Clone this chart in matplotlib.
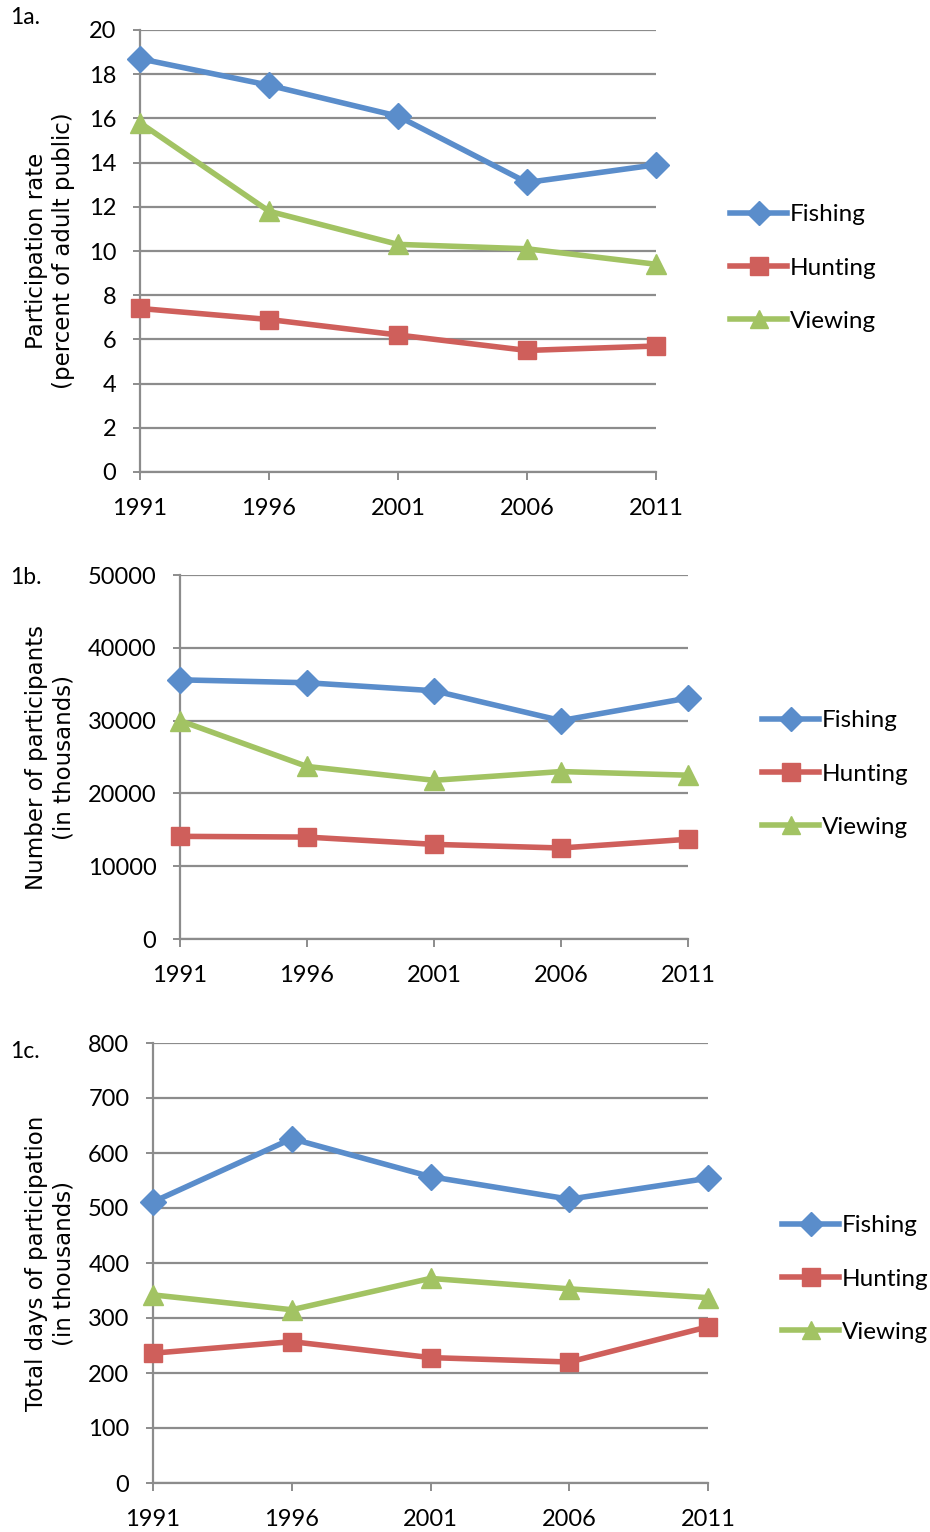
import matplotlib
matplotlib.use("Agg")
import matplotlib.pyplot as plt
from matplotlib.lines import Line2D

# ---- data ----
years = [1991, 1996, 2001, 2006, 2011]
series_names = ["Fishing", "Hunting", "Viewing"]

rate_fishing = [18.7, 17.5, 16.1, 13.1, 13.9]
rate_hunting = [7.4, 6.9, 6.2, 5.5, 5.7]
rate_viewing = [15.8, 11.8, 10.3, 10.1, 9.4]

part_fishing = [35600, 35200, 34100, 30000, 33100]
part_hunting = [14100, 14000, 13000, 12500, 13700]
part_viewing = [30000, 23700, 21800, 23000, 22500]

days_fishing = [511, 626, 557, 516, 554]
days_hunting = [236, 257, 228, 220, 284]
days_viewing = [342, 315, 372, 353, 337]

panel_tags = ["1a.", "1b.", "1c."]
ylabels = ["Participation rate\n(percent of adult public)",
           "Number of participants\n(in thousands)",
           "Total days of participation\n(in thousands)"]
yticks_list = [list(range(0, 21, 2)),
               list(range(0, 50001, 10000)),
               list(range(0, 801, 100))]

# ---- style ----
colors = ["#5A8DCB", "#CF5F5B", "#A2C363"]
markers = ["D", "s", "^"]
msizes = [13, 13.5, 14.5]
grid_col = "#8C8C8C"
tick_font = "Lato"
label_font = "DejaVu Sans"
tick_size = 17

W, H = 930, 1532
fig = plt.figure(figsize=(W / 100, H / 100), dpi=100)


def frac_box(left, right, top, bottom):
    return [left / W, 1 - bottom / H, (right - left) / W, (bottom - top) / H]


panels = [
    dict(box=(140, 656, 30, 472), data=[rate_fishing, rate_hunting, rate_viewing],
         legend=(730, 268), tag_y=18, lab_y=251),
    dict(box=(180, 688, 575, 939), data=[part_fishing, part_hunting, part_viewing],
         legend=(762, 774), tag_y=577, lab_y=757),
    dict(box=(153, 708, 1043, 1483), data=[days_fishing, days_hunting, days_viewing],
         legend=(782, 1279), tag_y=1052, lab_y=1263),
]

for i, p in enumerate(panels):
    ax = fig.add_axes(frac_box(*p["box"]))
    yt = yticks_list[i]
    for vals, c, m, ms, name in zip(p["data"], colors, markers, msizes, series_names):
        ax.plot(years, vals, color=c, lw=4, marker=m, ms=ms,
                markerfacecolor=c, markeredgecolor=c, clip_on=False,
                zorder=3, label=name)
    ax.set_xlim(years[0], years[-1])
    ax.set_ylim(yt[0], yt[-1])
    ax.set_xticks(years)
    ax.set_yticks(yt)
    ax.set_yticklabels([str(v) for v in yt], fontfamily=tick_font, fontsize=tick_size)
    ax.set_xticklabels([str(v) for v in years], fontfamily=tick_font, fontsize=tick_size)
    ax.tick_params(axis="y", length=5, width=1.4, color=grid_col, pad=12)
    ax.tick_params(axis="x", length=6, width=1.4, color=grid_col, pad=13)
    ax.yaxis.grid(True, color=grid_col, lw=1.6, zorder=0)
    ax.set_axisbelow(True)
    for s in ["top", "right"]:
        ax.spines[s].set_visible(False)
    for s in ["left", "bottom"]:
        ax.spines[s].set_color(grid_col)
        ax.spines[s].set_linewidth(1.6)

    fig.text(10 / W, 1 - p["tag_y"] / H, panel_tags[i], fontfamily=tick_font,
             fontsize=16.5, ha="left", va="center")
    fig.text(50 / W, 1 - p["lab_y"] / H, ylabels[i], fontfamily=label_font,
             fontsize=16.5, rotation=90, ha="center", va="center",
             multialignment="center", linespacing=1.25)

    handles = [Line2D([], [], color=c, lw=4, marker=m, ms=ms - 1,
                      markerfacecolor=c, markeredgecolor=c)
               for c, m, ms in zip(colors, markers, msizes)]
    lx, ly = p["legend"]
    fig.legend(handles, series_names, loc="center left",
               bbox_to_anchor=(lx / W, 1 - ly / H), frameon=False,
               prop={"family": tick_font, "size": 17.5},
               handlelength=2.35, handletextpad=0.1, labelspacing=1.32,
               borderpad=0, borderaxespad=0)

fig.savefig("out.png", dpi=100, facecolor="white")
